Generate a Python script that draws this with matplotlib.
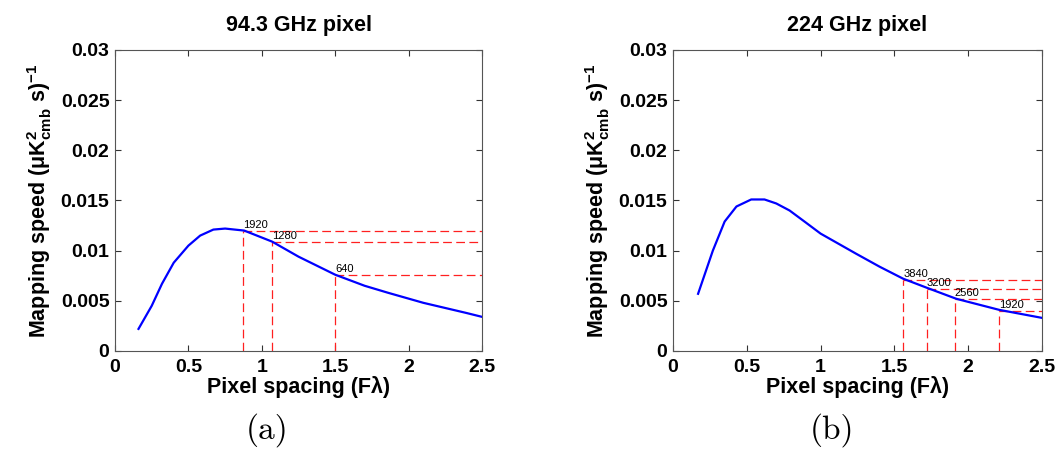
import matplotlib
matplotlib.use("Agg")
import matplotlib.pyplot as plt

plt.rcParams['font.family'] = ['Liberation Sans', 'DejaVu Sans']
plt.rcParams['mathtext.fontset'] = 'custom'
plt.rcParams['mathtext.rm'] = 'Liberation Sans:bold'
plt.rcParams['mathtext.it'] = 'Liberation Sans:bold'
plt.rcParams['mathtext.bf'] = 'Liberation Sans:bold'
plt.rcParams['mathtext.default'] = 'rm'

# ---- data ----
x_94 = [0.16, 0.25, 0.32, 0.40, 0.50, 0.58, 0.67, 0.75, 0.88, 1.07, 1.25, 1.50, 1.70, 1.86, 2.10, 2.39, 2.50]
y_94 = [0.0022, 0.0045, 0.0067, 0.0088, 0.0105, 0.0115, 0.0121, 0.0122, 0.0120, 0.0109, 0.0094, 0.0076, 0.0065, 0.0058, 0.0048, 0.0038, 0.0034]

x_224 = [0.17, 0.27, 0.35, 0.43, 0.53, 0.62, 0.70, 0.79, 0.90, 1.00, 1.12, 1.24, 1.40, 1.56, 1.72, 1.92, 2.21, 2.50]
y_224 = [0.0057, 0.0100, 0.0129, 0.0144, 0.0151, 0.0151, 0.0147, 0.0140, 0.0128, 0.0117, 0.0107, 0.0097, 0.0084, 0.0072, 0.0063, 0.0052, 0.0041, 0.0033]

mark_x_94 = [0.87, 1.07, 1.50]
mark_y_94 = [0.0120, 0.0109, 0.0076]
mark_lbl_94 = ['1920', '1280', '640']

mark_x_224 = [1.56, 1.72, 1.91, 2.21]
mark_y_224 = [0.0071, 0.0062, 0.0052, 0.0040]
mark_lbl_224 = ['3840', '3200', '2560', '1920']

xticks = [0, 0.5, 1, 1.5, 2, 2.5]
xticklabels = ['0', '0.5', '1', '1.5', '2', '2.5']
yticks = [0, 0.005, 0.01, 0.015, 0.02, 0.025, 0.03]
yticklabels = ['0', '0.005', '0.01', '0.015', '0.02', '0.025', '0.03']

titles = ['94.3 GHz pixel', '224 GHz pixel']
panel_labels = ['(a)', '(b)']
xlabel = 'Pixel spacing (F\u03bb)'
ylabel = r'Mapping speed $($$\mu$K$^{2}_{\rm cmb}$$\ $s$)^{-1}$'

fig = plt.figure(figsize=(10.59, 4.53), dpi=100)
axA = fig.add_axes([0.1086, 0.2252, 0.3466, 0.6645])
axB = fig.add_axes([0.6355, 0.2252, 0.3484, 0.6645])

datasets = [
    (axA, x_94, y_94, mark_x_94, mark_y_94, mark_lbl_94),
    (axB, x_224, y_224, mark_x_224, mark_y_224, mark_lbl_224),
]

for i, (ax, xs, ys, mx, my, ml) in enumerate(datasets):
    ax.plot(xs, ys, color='#0000ff', lw=1.6, zorder=3)
    for xm, ym, lb in zip(mx, my, ml):
        ax.plot([xm, xm], [0, ym], color='#ff2020', lw=0.9, dashes=(7, 3.5), zorder=2)
        ax.plot([xm, 2.5], [ym, ym], color='#ff2020', lw=0.9, dashes=(7, 3.5), zorder=2)
        ax.text(xm, ym + 0.00005, lb, fontsize=8, ha='left', va='bottom', color='black')
    ax.set_xlim(0, 2.5)
    ax.set_ylim(0, 0.03)
    ax.set_xticks(xticks)
    ax.set_xticklabels(xticklabels)
    ax.set_yticks(yticks)
    ax.set_yticklabels(yticklabels)
    ax.tick_params(direction='in', top=True, right=True, length=4, width=0.8,
                   labelsize=14, colors='#333333', labelcolor='black')
    ax.tick_params(axis='x', pad=6)
    ax.tick_params(axis='y', pad=4)
    for lab in ax.get_xticklabels() + ax.get_yticklabels():
        lab.set_fontweight('bold')
    for sp in ax.spines.values():
        sp.set_color('#555555')
        sp.set_linewidth(0.8)
    ax.set_title(titles[i], fontsize=15.5, fontweight='bold', pad=14)
    ax.set_xlabel(xlabel, fontsize=15.5, fontweight='bold', labelpad=0)
    ax.set_ylabel(ylabel, fontsize=15.5, fontweight='bold', labelpad=5)

fig.text(0.252, 0.051, panel_labels[0], fontsize=24, family='cmr10', ha='center', va='center')
fig.text(0.786, 0.051, panel_labels[1], fontsize=24, family='cmr10', ha='center', va='center')

fig.savefig('out.png', dpi=100)
